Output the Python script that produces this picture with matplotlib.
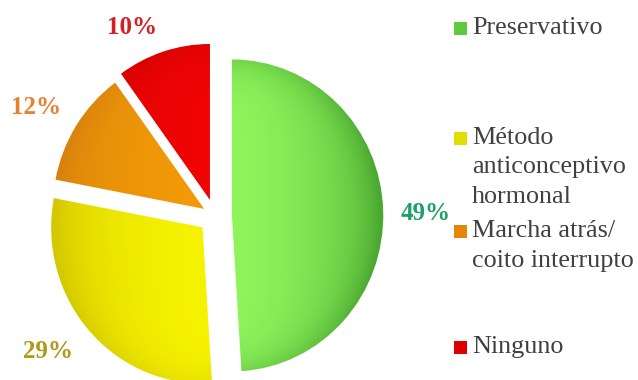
import numpy as np
import matplotlib
matplotlib.use("Agg")
import matplotlib.pyplot as plt
from matplotlib.colors import to_rgb

# Métodos anticonceptivos utilizados
categories = ["Preservativo", "Método\nanticonceptivo\nhormonal",
              "Marcha atrás/\ncoito interrupto", "Ninguno"]
values = [49, 29, 12, 10]

# gradient colours per slice: (near centre, far side)
light_colors = ["#8EF55C", "#F6F300", "#F29A06", "#F00404"]
dark_colors = ["#4BA830", "#D4C800", "#D8820F", "#CC0000"]
legend_colors = ["#5CCB3C", "#E2DC00", "#E3860A", "#DE0000"]
label_colors = ["#1FA068", "#B39818", "#E8802E", "#D42020"]

# slice offsets as a fraction of the radius
explode = [0.112, 0.11, 0.085, 0.108]

W, H = 638, 380
SX = 0.97          # slight horizontal squeeze of the pie
fig = plt.figure(figsize=(W / 100, H / 100), dpi=100)
ax = fig.add_axes([0, 0, 1, 1])

cx, cy, R = 215 / SX, H - 216, 156
wedges, _ = ax.pie(values, startangle=90, counterclock=False, radius=R,
                   center=(cx, cy), explode=[e * R for e in explode],
                   wedgeprops=dict(linewidth=0))

# gradient fill for each slice, darker away from the pie centre
pad = 40
x0, x1 = cx - R - pad, cx + R + pad
y0, y1 = cy - R - pad, cy + R + pad
xs = np.linspace(x0, x1, 400)
ys = np.linspace(y0, y1, 400)
XX, YY = np.meshgrid(xs, ys)
for w, lc, dc in zip(wedges, light_colors, dark_colors):
    wx, wy = w.center
    t = np.clip(np.abs(XX - wx) / R, 0, 1)
    rr = np.clip(np.hypot(XX - wx, YY - wy) / R, 0, 1)
    t = np.clip(0.7 * t ** 1.6 + 0.4 * rr ** 8, 0, 1)
    c0 = np.array(to_rgb(lc))
    c1 = np.array(to_rgb(dc))
    img = c0[None, None, :] * (1 - t[..., None]) + c1[None, None, :] * t[..., None]
    im = ax.imshow(img, extent=[x0, x1, y0, y1], origin="lower",
                   interpolation="bilinear", zorder=2)
    im.set_clip_path(w)
    w.set_facecolor("none")

ax.set_aspect("auto")
ax.set_xlim(0, W / SX)
ax.set_ylim(0, H)
ax.axis("off")


def fpos(x, y):
    return x / W, 1 - y / H


# percentage labels
label_pos = [(426, 213), (48, 352), (36, 107), (132, 27)]
for v, (lx, ly), col in zip(values, label_pos, label_colors):
    fig.text(*fpos(lx, ly), f"{v}%", ha="center", va="center", color=col,
             fontsize=18, fontweight="bold", family="Liberation Serif")

# legend
legend_y = [28, 138, 231, 347]
for cat, ly, col in zip(categories, legend_y, legend_colors):
    fig.add_artist(plt.Rectangle(fpos(454, ly + 6.5), 13 / W, 13 / H,
                                 color=col, lw=0,
                                 transform=fig.transFigure))
    for i, line in enumerate(cat.split("\n")):
        fig.text(*fpos(472, ly + i * 29.5), line, ha="left", va="center",
                 color="#404040", fontsize=18.8, family="Liberation Serif")

fig.savefig("out.png", dpi=100)
